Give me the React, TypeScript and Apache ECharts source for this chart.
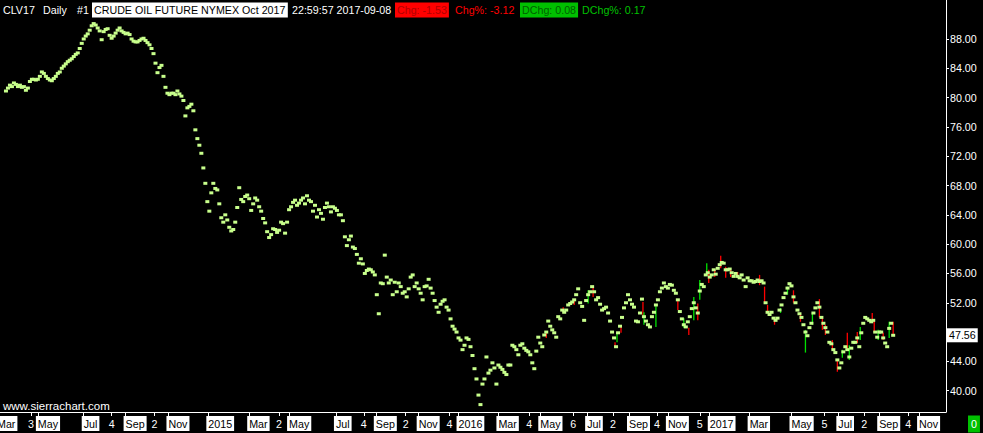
import React, { useEffect, useRef } from 'react';
import * as echarts from 'echarts';

// Trading-day index of the first sampled close, and spacing between samples (trading days)
const FIRST_DAY = 3;
const DAY_STEP = 2;

// Closes (CLV17, sampled every 2 trading days)
const closes = [
  80.9, 81.3, 81.7, 81.5, 82.0, 81.8, 81.5, 81.7, 81.4, 81.5,
  81.0, 81.3, 82.2, 82.5, 82.5, 82.4, 82.5, 82.9, 83.5, 83.3,
  82.9, 82.6, 82.4, 82.3, 82.6, 82.9, 83.3, 83.5, 84.0, 84.3,
  84.6, 84.9, 85.1, 85.3, 85.6, 85.9, 86.1, 86.7, 87.4, 88.0,
  88.4, 88.7, 89.2, 89.8, 90.1, 89.9, 89.5, 89.1, 87.9, 89.0,
  89.3, 89.4, 88.5, 88.1, 88.4, 88.8, 89.2, 89.5, 89.1, 88.9,
  88.7, 88.8, 88.6, 88.0, 87.7, 87.6, 87.6, 87.8, 88.0, 88.1,
  87.8, 87.5, 87.2, 86.7, 86.0, 84.7, 83.4, 84.1, 84.4, 82.9,
  81.4, 80.6, 80.4, 80.6, 80.6, 80.4, 80.9, 80.5, 80.2, 79.6,
  77.5, 78.6, 78.8, 79.1, 78.2, 75.6, 74.4, 73.5, 72.4, 70.4,
  68.3, 65.8, 64.5, 67.0, 68.3, 67.6, 67.4, 65.5, 63.6, 63.0,
  64.0, 63.3, 62.3, 61.8, 62.0, 63.0, 65.0, 67.7, 66.1, 65.8,
  66.5, 66.7, 66.2, 64.6, 65.5, 66.3, 66.0, 65.1, 64.5, 63.5,
  62.9, 61.7, 60.9, 61.3, 62.1, 62.0, 61.6, 61.9, 63.0, 62.8,
  61.5, 63.0, 64.7, 65.1, 65.7, 66.0, 65.3, 65.6, 66.0, 66.3,
  65.5, 66.6, 66.0, 65.8, 64.5, 65.3, 63.7, 64.7, 64.2, 63.4,
  65.0, 65.6, 65.1, 64.4, 65.1, 64.9, 64.6, 64.0, 64.0, 63.2,
  61.0, 59.8, 60.6, 61.1, 59.6, 59.4, 58.6, 57.4, 58.0, 57.3,
  56.0, 56.4, 56.6, 56.5, 56.2, 55.8, 53.1, 50.5, 54.7, 54.6,
  58.5, 55.5, 54.7, 55.1, 53.1, 54.8, 53.5, 54.7, 54.2, 53.3,
  53.5, 52.8, 53.9, 55.5, 55.8, 54.2, 54.7, 53.9, 53.3, 52.4,
  54.2, 54.3, 55.2, 54.0, 53.3, 52.3, 51.4, 50.7, 51.8, 52.2,
  52.4, 51.4, 51.0, 49.8, 48.8, 48.4, 48.0, 47.2, 46.9, 45.6,
  46.2, 47.2, 47.0, 46.0, 44.8, 43.0, 41.6, 39.4, 38.1, 40.9,
  41.6, 44.6, 42.4, 42.8, 43.8, 43.1, 40.9, 43.5, 43.2, 42.9,
  42.5, 42.2, 43.5, 43.5, 46.2, 46.0, 45.6, 44.9, 46.2, 46.4,
  45.8, 45.5, 45.3, 44.9, 43.8, 43.0, 45.4, 47.3, 46.5, 46.0,
  47.6, 48.0, 49.5, 48.8, 48.3, 47.9, 47.3, 50.1, 49.8, 51.0,
  50.7, 51.0, 51.7, 51.9, 52.1, 52.4, 53.1, 53.9, 52.0, 51.5,
  49.6, 52.3, 53.1, 53.5, 54.2, 53.5, 52.4, 52.7, 51.8, 51.0,
  51.2, 51.4, 50.6, 49.5, 48.0, 47.2, 46.0, 47.9, 48.8, 50.0,
  51.3, 52.0, 53.1, 52.4, 51.8, 51.4, 49.5, 49.4, 50.6, 52.5,
  50.1, 49.5, 49.0, 48.7, 50.1, 50.7, 51.7, 52.4, 53.5, 54.0,
  54.7, 54.2, 54.0, 54.5, 54.4, 53.7, 53.3, 52.4, 50.8, 49.8,
  49.0, 48.7, 49.4, 50.1, 51.2, 52.0, 51.3, 50.6, 53.6, 54.5,
  54.2, 55.8, 56.1, 55.5, 55.8, 56.5, 55.9, 56.7, 57.2, 57.5,
  57.4, 56.5, 56.5, 56.6, 56.1, 55.6, 56.0, 55.6, 55.4, 55.8,
  55.1, 54.2, 55.4, 55.0, 55.0, 54.8, 54.9, 55.1, 54.9, 55.0,
  54.7, 52.0, 50.7, 50.4, 50.7, 49.9, 49.6, 49.9, 51.0, 51.7,
  52.7, 53.3, 54.0, 54.6, 54.3, 52.8, 52.0, 51.0, 50.5, 50.0,
  49.0, 48.0, 47.5, 48.6, 49.2, 50.6, 51.3, 52.0, 51.4, 50.0,
  49.2, 48.6, 48.0, 46.6, 46.4, 45.6, 45.2, 44.2, 43.1, 43.8,
  45.3, 46.0, 45.6, 44.6, 45.8, 46.6, 46.6, 47.2, 46.0, 47.9,
  49.2, 50.0, 49.8, 49.6, 49.4, 49.6, 48.0, 47.3, 48.0, 48.0,
  47.2, 46.5, 46.0, 48.5, 49.2, 47.56,
];

// High-low ranges: [trading day, low, high, up(1) / down(0)]
const wicks = [
  [545, 47.2, 48.0, 0], [562, 50.7, 51.4, 0], [573, 51.7, 52.4, 0], [587, 51.9, 53.7, 1],
  [592, 52.8, 54.0, 0], [614, 46.0, 46.6, 0], [616, 46.6, 47.9, 1], [620, 47.9, 48.7, 0],
  [642, 50.3, 52.1, 0], [643, 49.0, 50.7, 1], [655, 48.7, 51.7, 1], [677, 51.0, 52.4, 0],
  [683, 48.6, 49.9, 1], [688, 47.6, 48.6, 0], [693, 49.6, 52.8, 1], [697, 49.6, 51.9, 0],
  [699, 52.4, 55.1, 1], [706, 55.8, 57.4, 1], [708, 54.7, 56.5, 0], [714, 55.5, 56.5, 0],
  [720, 56.7, 58.4, 0], [725, 55.4, 56.9, 0], [730, 55.5, 56.5, 0], [737, 55.4, 56.2, 0],
  [759, 54.4, 55.8, 0], [764, 52.0, 54.2, 0], [767, 50.7, 51.7, 0], [774, 49.0, 49.9, 0],
  [780, 50.6, 51.3, 1], [787, 53.1, 54.2, 1], [793, 52.0, 53.7, 0], [800, 49.4, 50.6, 0],
  [805, 45.2, 48.3, 1], [812, 49.0, 50.6, 1], [819, 50.0, 52.5, 0], [822, 48.3, 50.1, 0],
  [825, 47.6, 49.0, 0], [832, 45.6, 46.9, 0], [837, 42.6, 44.2, 0], [842, 44.5, 45.6, 1],
  [847, 45.6, 47.9, 0], [849, 44.2, 46.2, 1], [857, 46.5, 48.0, 0], [860, 46.9, 48.7, 1],
  [872, 49.4, 50.6, 0], [874, 48.0, 49.7, 0], [878, 46.9, 48.3, 1], [883, 46.9, 47.9, 0],
  [889, 47.2, 49.4, 1], [893, 47.6, 49.4, 0],
];

// Time-axis ticks (trading-day index) and their labels
const tickDays = [
  -6, 28, 35, 81, 109, 123, 152, 166, 206, 247,
  277, 287, 334, 362, 374, 404, 417, 448, 457, 497,
  528, 539, 572, 586, 612, 628, 656, 667, 699, 709,
  749, 791, 824, 838, 864, 879, 908, 919,
];
const tickLabels = [
  'Mar', '3', 'May', 'Jul', '4', 'Sep', '2', 'Nov', '2015', 'Mar',
  '2', 'May', 'Jul', '4', 'Sep', '2', 'Nov', '4', '2016', 'Mar',
  '4', 'May', '6', 'Jul', '2', 'Sep', '4', 'Nov', '5', '2017',
  'Mar', 'May', '5', 'Jul', '2', 'Sep', '4', 'Nov',
];

const priceTicks = [40, 44, 52, 56, 60, 64, 68, 72, 76, 80, 84, 88];
const lastClose = 47.56;

const FONT = 'Liberation Sans, Arial, sans-serif';
const FS = 10.7;
const SHIFT = 8; // the chart canvas starts 8px left of the page so day -8 sits at page x -8

export default function App() {
  const ref = useRef<HTMLDivElement>(null);

  useEffect(() => {
    document.body.style.margin = '0';
    document.body.style.background = '#000';
    document.body.style.overflow = 'hidden';
    const chart = echarts.init(ref.current as HTMLDivElement, null, { renderer: 'svg' });

    const isBoxed = (t: string) => /[A-Za-z]/.test(t) || t.length === 4;
    const labelPos: number[] = [];
    const labelMap = new Map<number, string>();
    tickDays.forEach((d, i) => {
      const t = tickLabels[i];
      const p = d - (isBoxed(t) ? 2 : 3);
      labelPos.push(p);
      labelMap.set(p, t);
    });

    const scatterData = closes.map((v, i) => [FIRST_DAY + DAY_STEP * i, v]);
    const txt = (x: number, y: number, text: string, fill: string, extra: any = {}) => ({
      type: 'text',
      x: x + SHIFT,
      y,
      style: { text, fill, font: `${FS}px ${FONT}`, verticalAlign: 'middle', ...extra },
    });

    const option: any = {
      animation: false,
      backgroundColor: '#000',
      grid: { left: 0, right: 37, top: 0, bottom: 21, containLabel: false },
      xAxis: {
        type: 'value',
        min: -8,
        max: 946,
        axisLine: { show: true, onZero: false, lineStyle: { color: '#fff', width: 1 } },
        axisTick: { show: true, customValues: tickDays, length: 4, lineStyle: { color: '#fff' } },
        axisLabel: {
          show: true,
          customValues: labelPos,
          align: 'left',
          margin: 4,
          formatter: (v: number) => {
            const t = labelMap.get(Math.round(v)) || '';
            return isBoxed(t) ? `{m|${t}}` : `{n|${t}}`;
          },
          rich: {
            m: { backgroundColor: '#fff', color: '#000', padding: [2, 2, 2, 2], fontSize: FS, fontFamily: FONT },
            n: { color: '#fff', padding: [2, 0, 2, 0], fontSize: FS, fontFamily: FONT },
          },
        },
        splitLine: { show: false },
      },
      yAxis: [
        {
          type: 'value',
          position: 'right',
          min: 37.09,
          max: 93.32,
          axisLine: { show: true, onZero: false, lineStyle: { color: '#fff', width: 1 } },
          axisTick: { show: true, customValues: priceTicks, length: 3, lineStyle: { color: '#fff' } },
          axisLabel: {
            show: true,
            customValues: priceTicks,
            formatter: (v: number) => v.toFixed(2),
            color: '#fff',
            margin: 4,
            fontSize: FS,
            fontFamily: FONT,
          },
          splitLine: { show: false },
        },
        {
          type: 'value',
          position: 'right',
          min: 37.09,
          max: 93.32,
          axisLine: { show: false, onZero: false },
          axisTick: { show: false },
          axisLabel: {
            show: true,
            customValues: [lastClose],
            formatter: (v: number) => v.toFixed(2),
            color: '#000',
            backgroundColor: '#fff',
            padding: [2, 2, 1, 2],
            margin: 1,
            fontSize: FS,
            fontFamily: FONT,
          },
          splitLine: { show: false },
        },
      ],
      series: [
        {
          type: 'custom',
          z: 2,
          clip: true,
          data: wicks,
          encode: { x: 0, y: [1, 2] },
          renderItem: (params: any, api: any) => {
            const d = api.value(0);
            const lo = api.coord([d, api.value(1)]);
            const hi = api.coord([d, api.value(2)]);
            return {
              type: 'line',
              shape: { x1: lo[0], y1: lo[1], x2: hi[0], y2: hi[1] },
              style: { stroke: api.value(3) ? '#00e000' : '#ff0000', lineWidth: 1.3 },
            };
          },
        },
        {
          type: 'scatter',
          z: 3,
          symbol: 'rect',
          symbolSize: [4, 3],
          data: scatterData,
          itemStyle: { color: '#c8ff8c', opacity: 1 },
        },
      ],
      graphic: [
        txt(3, 10, 'CLV17', '#fff'),
        txt(43, 10, 'Daily', '#fff'),
        txt(77, 10, '#1', '#fff'),
        txt(92, 10, 'CRUDE OIL FUTURE NYMEX Oct 2017', '#000', { backgroundColor: '#fff', padding: [2, 2, 2, 2] }),
        txt(292, 10, '22:59:57 2017-09-08', '#fff'),
        txt(395, 10, 'Chg: -1.53', '#b00000', { backgroundColor: '#ff0000', padding: [2, 2, 2, 2] }),
        txt(455, 10, 'Chg%: -3.12', '#ff0000'),
        txt(520, 10, 'DChg: 0.08', '#006000', { backgroundColor: '#00c000', padding: [2, 2, 2, 2] }),
        txt(582, 10, 'DChg%: 0.17', '#00c000'),
        txt(3, 406, 'www.sierrachart.com', '#fff', { font: `11.5px ${FONT}` }),
        txt(968, 424, '0', '#fff', { backgroundColor: '#00c000', padding: [3, 3, 3, 3] }),
      ],
    };

    chart.setOption(option);
    return () => chart.dispose();
  }, []);

  return (
    <div
      ref={ref}
      style={{ position: 'fixed', left: -SHIFT, top: 0, width: 983 + SHIFT, height: 433, background: '#000' }}
    />
  );
}
